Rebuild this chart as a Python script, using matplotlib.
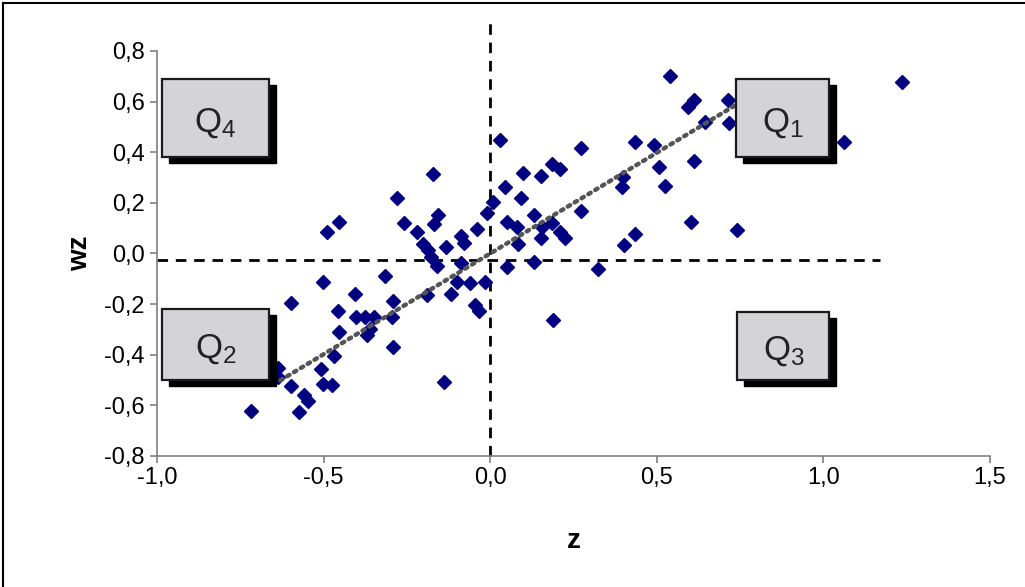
import matplotlib
matplotlib.use("Agg")
import matplotlib.pyplot as plt
import matplotlib.transforms as mtransforms
from matplotlib.patches import Rectangle
import numpy as np

plt.rcParams['font.family'] = ['Liberation Sans', 'DejaVu Sans']

# standardised variable z and its spatial lag wz
z = [-0.718, -0.574, -0.559, -0.547, -0.598, -0.502, -0.474, -0.637, -0.637, -0.508,
     -0.468, -0.453, -0.369, -0.360, -0.291, -0.456, -0.402, -0.375, -0.348, -0.294,
     -0.405, -0.291, -0.598, -0.502, -0.315, -0.489, -0.453, -0.279, -0.258, -0.219,
     -0.171, -0.156, -0.168, -0.201, -0.186, -0.177, -0.159, -0.132, -0.087, -0.078,
     -0.039, -0.009, 0.009, -0.087, -0.189, -0.117, -0.099, -0.060, -0.015, -0.045,
     -0.033, -0.138, 0.030, 0.045, 0.099, 0.153, 0.186, 0.210, 0.093, 0.051,
     0.081, 0.084, 0.132, 0.156, 0.153, 0.186, 0.210, 0.225, 0.051, 0.132,
     0.273, 0.273, 0.189, 0.324, 0.396, 0.399, 0.435, 0.492, 0.505, 0.523,
     0.613, 0.435, 0.402, 0.604, 0.742, 0.538, 0.595, 0.613, 0.715, 0.718,
     0.646, 1.063, 1.237]
wz = [-0.623, -0.626, -0.559, -0.583, -0.524, -0.516, -0.520, -0.453, -0.488, -0.457,
      -0.405, -0.310, -0.322, -0.298, -0.370, -0.227, -0.251, -0.251, -0.251, -0.251,
      -0.160, -0.188, -0.196, -0.113, -0.089, 0.085, 0.125, 0.219, 0.121, 0.085,
      0.314, 0.152, 0.117, 0.038, 0.014, -0.014, -0.049, 0.026, 0.069, 0.042,
      0.097, 0.160, 0.204, -0.038, -0.164, -0.160, -0.113, -0.117, -0.113, -0.204,
      -0.227, -0.508, 0.449, 0.263, 0.318, 0.306, 0.354, 0.334, 0.219, 0.125,
      0.105, 0.038, 0.152, 0.105, 0.061, 0.121, 0.085, 0.061, -0.053, -0.034,
      0.417, 0.168, -0.263, -0.061, 0.263, 0.302, 0.441, 0.429, 0.342, 0.267,
      0.366, 0.077, 0.034, 0.125, 0.093, 0.702, 0.579, 0.607, 0.607, 0.516,
      0.520, 0.441, 0.678]

# linear trend (Moran's I slope) and the means drawn as dashed lines
trend_slope = 0.796
trend_intercept = 0.0
trend_x = [-0.63, 0.74]
mean_z = 0.0
mean_wz = -0.025

x_ticks = [-1.0, -0.5, 0.0, 0.5, 1.0, 1.5]
y_ticks = [-0.8, -0.6, -0.4, -0.2, 0.0, 0.2, 0.4, 0.6, 0.8]

# quadrant boxes: label, x0, x1, y0, y1 (data units)
quadrants = [
    ('4', -0.985, -0.664, 0.381, 0.690),
    ('1', 0.739, 1.018, 0.381, 0.690),
    ('2', -0.985, -0.664, -0.500, -0.219),
    ('3', 0.742, 1.018, -0.500, -0.231),
]

fig = plt.figure(figsize=(10.25, 5.87), dpi=100)
ax = fig.add_axes([0.1532, 0.2232, 0.8127, 0.690])
ax.set_xlim(-1.0, 1.5)
ax.set_ylim(-0.8, 0.8)

# dashed mean lines
ax.plot([mean_z, mean_z], [-0.8, 0.94], color='black', lw=2,
        dashes=(3.8, 2.8), clip_on=False, zorder=2)
ax.plot([-1.0, 1.17], [mean_wz, mean_wz], color='black', lw=2,
        dashes=(3.8, 2.8), clip_on=False, zorder=2)

# points
ax.plot(z, wz, 'D', ms=7.2, color='#000080', mec='#000080', ls='none', zorder=3)

# trend line
tx = np.array(trend_x)
ax.plot(tx, trend_slope * tx + trend_intercept, color='#555555', lw=3.2,
        ls=(0, (0.6, 1.2)), dash_capstyle='round', zorder=4)

# quadrant label boxes with drop shadow
shadow_tr = mtransforms.offset_copy(ax.transData, fig=fig, x=7, y=-6, units='dots')
for lab, x0, x1, y0, y1 in quadrants:
    ax.add_patch(Rectangle((x0, y0), x1 - x0, y1 - y0, transform=shadow_tr,
                           facecolor='black', edgecolor='black', zorder=5, clip_on=False))
    ax.add_patch(Rectangle((x0, y0), x1 - x0, y1 - y0, facecolor='#d4d4d7',
                           edgecolor='#1a1a1a', lw=1.6, zorder=6, clip_on=False))
    ax.text((x0 + x1) / 2, (y0 + y1) / 2 - 0.02, r'$\mathregular{Q_%s}$' % lab,
            ha='center', va='center', fontsize=25, color='#222222', zorder=7)

# axes styling
for s in ['top', 'right']:
    ax.spines[s].set_visible(False)
for s in ['left', 'bottom']:
    ax.spines[s].set_color('#808080')
    ax.spines[s].set_linewidth(1.2)
ax.set_xticks(x_ticks)
ax.set_yticks(y_ticks)
ax.set_xticklabels([f'{v:.1f}'.replace('.', ',') for v in x_ticks])
ax.set_yticklabels([f'{v:.1f}'.replace('.', ',') for v in y_ticks])
ax.tick_params(axis='both', labelsize=17, color='#808080', length=5, width=1.2,
               direction='out')
ax.tick_params(axis='x', pad=3)
ax.tick_params(axis='y', pad=4)
ax.set_xlabel('z', fontsize=20, fontweight='bold', labelpad=28)
ax.set_ylabel('wz', fontsize=20, fontweight='bold', labelpad=8)

# outer frame (left and top edges visible in the source)
fig.add_artist(plt.Line2D([0.003, 0.003], [0.0, 0.995], transform=fig.transFigure,
                          color='black', lw=1.5))
fig.add_artist(plt.Line2D([0.003, 1.0], [0.995, 0.995], transform=fig.transFigure,
                          color='black', lw=1.5))

fig.savefig('out.png', dpi=100)
